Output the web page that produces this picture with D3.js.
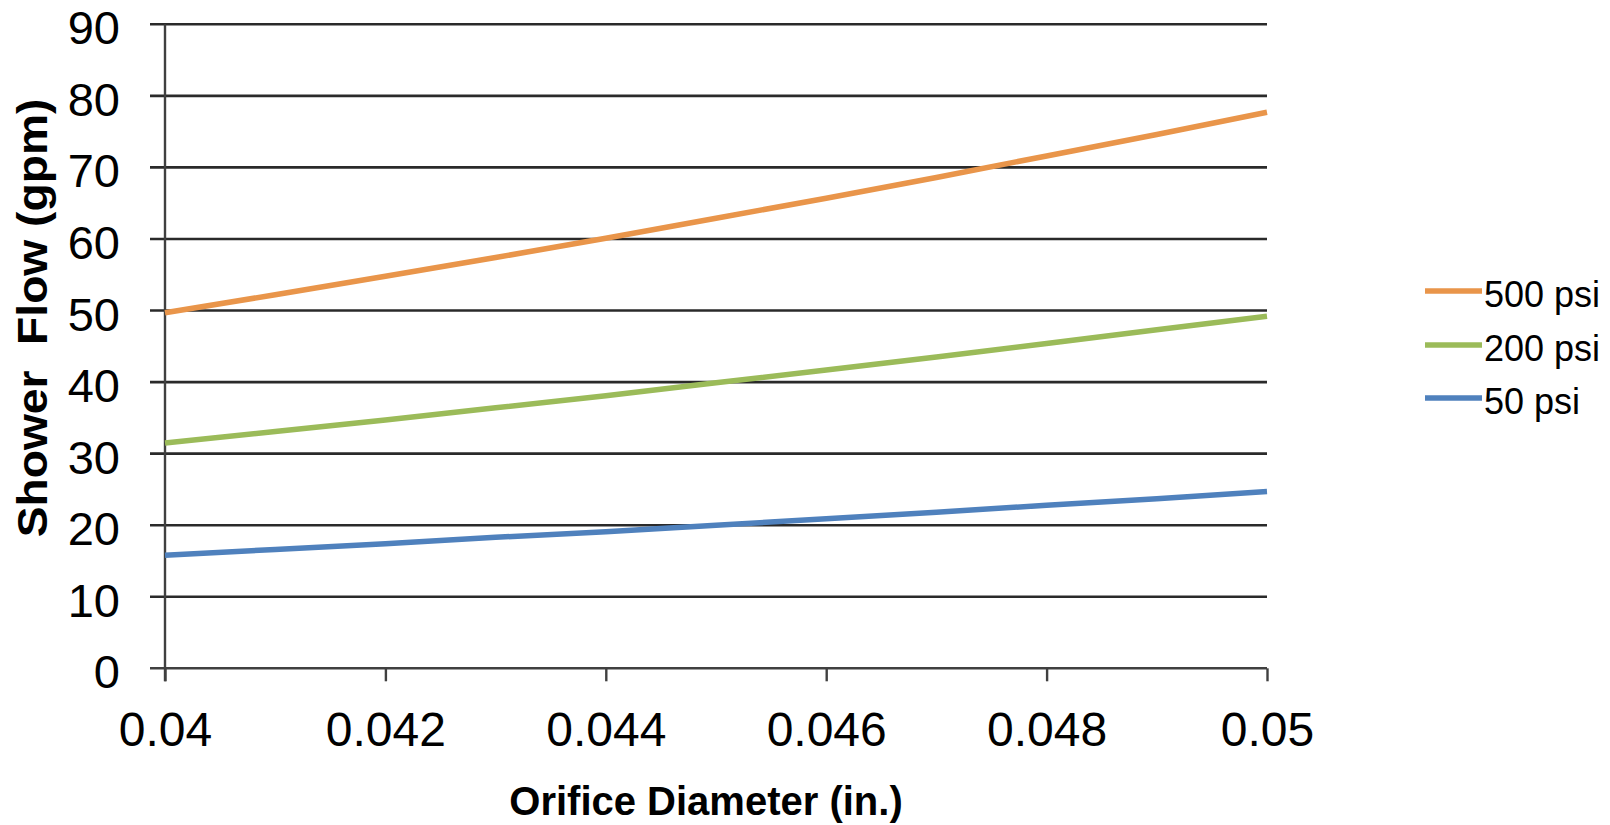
<!DOCTYPE html>
<html>
<head>
<meta charset="utf-8">
<script src="https://cdn.jsdelivr.net/npm/d3@7"></script>
<style>
  html, body { margin: 0; padding: 0; background: #fff; }
  svg { display: block; font-family: "Liberation Sans", Arial, sans-serif; }
  .pre { white-space: pre; }
</style>
</head>
<body>
<svg id="chart" width="1610" height="825"></svg>
<script>
// Orifice diameters (in.)
const diameters = [0.040, 0.041, 0.042, 0.043, 0.044, 0.045, 0.046, 0.047, 0.048, 0.049, 0.050];

// Shower flow (gpm) at each supply pressure
const flow500 = [49.7, 52.2, 54.8, 57.4, 60.1, 62.9, 65.7, 68.6, 71.6, 74.6, 77.7];
const flow200 = [31.5, 33.1, 34.7, 36.4, 38.1, 39.9, 41.7, 43.5, 45.4, 47.3, 49.2];
const flow50  = [15.8, 16.6, 17.4, 18.3, 19.1, 20.0, 20.9, 21.8, 22.8, 23.7, 24.7];

const seriesNames = ["500 psi", "200 psi", "50 psi"];
const seriesColors = ["#E9954A", "#9BBB59", "#4F81BD"];

const xTicks = [0.040, 0.042, 0.044, 0.046, 0.048, 0.050];
const xTickLabels = ["0.04", "0.042", "0.044", "0.046", "0.048", "0.05"];
const yTicks = [0, 10, 20, 30, 40, 50, 60, 70, 80, 90];

const series = [flow500, flow200, flow50].map((vals, i) => ({
  name: seriesNames[i],
  color: seriesColors[i],
  points: vals.map((v, j) => ({ d: diameters[j], q: v }))
}));

const svg = d3.select("#chart");

const plot = { left: 165, right: 1267, top: 24.3, bottom: 668.3 };

const x = d3.scaleLinear().domain([0.04, 0.05]).range([plot.left, plot.right]);
const y = d3.scaleLinear().domain([0, 90]).range([plot.bottom, plot.top]);

// Horizontal gridlines, extending left past the axis as tick marks
svg.append("g")
  .selectAll("line")
  .data(yTicks.filter(t => t > 0))
  .join("line")
  .attr("x1", plot.left - 15)
  .attr("x2", plot.right)
  .attr("y1", d => y(d))
  .attr("y2", d => y(d))
  .attr("stroke", "#2a2a2a")
  .attr("stroke-width", 2.6);

// Y axis tick labels
svg.append("g")
  .selectAll("text")
  .data(yTicks)
  .join("text")
  .attr("x", 120)
  .attr("y", d => y(d) + 20)
  .attr("text-anchor", "end")
  .attr("font-size", 47)
  .attr("fill", "#000")
  .text(d => d);

// Y axis line
svg.append("line")
  .attr("x1", plot.left).attr("x2", plot.left)
  .attr("y1", plot.top).attr("y2", plot.bottom + 13)
  .attr("stroke", "#404040")
  .attr("stroke-width", 2.4);

// X axis with downward ticks
const xAxis = d3.axisBottom(x)
  .tickValues(xTicks)
  .tickSize(13)
  .tickSizeOuter(0)
  .tickFormat((d, i) => xTickLabels[i]);

const gx = svg.append("g")
  .attr("transform", `translate(0,${plot.bottom})`)
  .call(xAxis);
gx.select(".domain")
  .attr("stroke", "#404040")
  .attr("stroke-width", 2.6)
  .attr("d", `M${plot.left - 15},0H${plot.right}`);
gx.selectAll(".tick line")
  .attr("stroke", "#404040")
  .attr("stroke-width", 2.4);
gx.selectAll(".tick text")
  .attr("y", 0)
  .attr("dy", 0)
  .attr("transform", "translate(0,78)")
  .attr("font-family", "Liberation Sans, Arial, sans-serif")
  .attr("font-size", 48)
  .attr("fill", "#000");

// Data lines
const line = d3.line()
  .x(p => x(p.d))
  .y(p => y(p.q));

svg.append("g")
  .selectAll("path")
  .data(series)
  .join("path")
  .attr("d", s => line(s.points))
  .attr("fill", "none")
  .attr("stroke", s => s.color)
  .attr("stroke-width", 5.5)
  .attr("stroke-linejoin", "round");

// Axis titles
svg.append("text")
  .attr("x", 706)
  .attr("y", 815)
  .attr("text-anchor", "middle")
  .attr("font-size", 40)
  .attr("font-weight", "bold")
  .attr("fill", "#000")
  .text("Orifice Diameter (in.)");

svg.append("text")
  .attr("class", "pre")
  .attr("transform", "translate(47,318) rotate(-90) scale(1.1,1)")
  .attr("text-anchor", "middle")
  .attr("font-size", 42)
  .attr("font-weight", "bold")
  .attr("fill", "#000")
  .text("Shower  Flow (gpm)");

// Legend
const legendY = [291, 345, 398];
const legend = svg.append("g")
  .selectAll("g")
  .data(series)
  .join("g")
  .attr("transform", (s, i) => `translate(1425,${legendY[i]})`);
legend.append("line")
  .attr("x1", 0).attr("x2", 57)
  .attr("y1", 0).attr("y2", 0)
  .attr("stroke", s => s.color)
  .attr("stroke-width", 5.5);
legend.append("text")
  .attr("x", 59)
  .attr("y", 16)
  .attr("font-size", 36)
  .attr("fill", "#000")
  .text(s => s.name);
</script>
</body>
</html>
